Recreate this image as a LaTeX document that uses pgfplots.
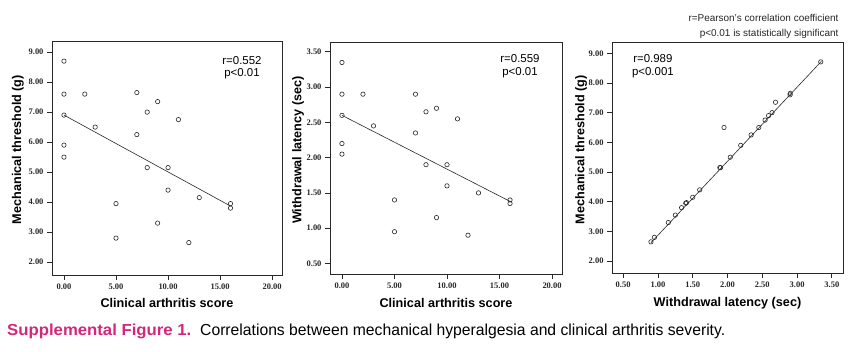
\documentclass[border=0pt]{standalone}
\usepackage{fontspec}
\setmainfont{Liberation Sans}
\newfontfamily\tickfont{Liberation Serif}
\usepackage{pgfplots}
\pgfplotsset{compat=1.18}
\definecolor{capred}{RGB}{212,38,122}
\definecolor{axisgray}{RGB}{40,40,40}

\pgfplotstableread{
x y
0 8.70
0 7.60
0 6.90
0 5.90
0 5.50
2 7.60
3 6.50
5 3.95
5 2.80
7 7.65
7 6.25
8 7.00
8 5.15
9 7.35
9 3.30
10 5.15
10 4.40
11 6.75
12 2.65
13 4.15
16 3.95
16 3.80
}\tabA

\pgfplotstableread{
x y
0 3.35
0 2.90
0 2.60
0 2.20
0 2.05
2 2.90
3 2.45
5 1.40
5 0.95
7 2.90
7 2.35
8 2.65
8 1.90
9 2.70
9 1.15
10 1.90
10 1.60
11 2.55
12 0.90
13 1.50
16 1.40
16 1.35
}\tabB

\pgfplotstableread{
x y
3.34 8.71
2.90 7.65
2.90 7.60
2.69 7.35
2.64 7.00
2.59 6.90
2.54 6.75
2.45 6.50
2.34 6.25
2.19 5.90
2.04 5.50
1.95 6.50
1.89 5.15
1.90 5.15
1.60 4.40
1.50 4.15
1.40 3.95
1.41 3.97
1.34 3.80
1.25 3.55
1.15 3.30
0.95 2.80
0.90 2.65
}\tabC

\pgfplotsset{
  panel/.style={
    scale only axis,
    anchor=south west,
    axis line style={axisgray, line width=0.9bp},
    tick align=outside,
    tick pos=left,
    major tick length=5bp,
    tick style={axisgray, line width=0.8bp},
    /pgf/number format/.cd, fixed, fixed zerofill, precision=2, assume math mode=true,
    /pgfplots/.cd,
    tick label style={font=\tickfont\bfseries\fontsize{8.5}{9}\selectfont, text=black!85},
    label style={font=\bfseries\fontsize{12.7}{13}\selectfont},
    scaled ticks=false,
  },
  pts/.style={only marks, mark=o, mark size=2.2bp, mark options={line width=0.6bp, black!85}},
  fit/.style={no marks, line width=0.6bp, black!85},
}

\begin{document}
\begin{tikzpicture}
\path[use as bounding box] (0,0) rectangle (854bp,352bp);

% Panel 1
\begin{axis}[panel, at={(52bp,77bp)}, width=230bp, height=234bp,
  xmin=-1.15, xmax=20.95, ymin=1.57, ymax=9.37,
  xtick={0,5,10,15,20}, ytick={2,3,4,5,6,7,8,9},
  xlabel={Clinical arthritis score}, ylabel={Mechanical threshold (g)},
  xlabel style={at={(axis description cs:0.5,-0.12)}, anchor=center},
  ylabel style={at={(axis description cs:-0.148,0.536)}, anchor=center},
]
\addplot[pts] table[x=x,y=y] {\tabA};
\addplot[fit] coordinates {(0,6.90) (16,3.87)};
\node[align=center, font=\fontsize{11.5}{13}\selectfont] at (rel axis cs:0.826,0.886) {r=0.552\\p<0.01};
\end{axis}

% Panel 2
\begin{axis}[panel, at={(330bp,78bp)}, width=232bp, height=232bp,
  xmin=-1.14, xmax=20.95, ymin=0.35, ymax=3.64,
  xtick={0,5,10,15,20}, ytick={0.5,1,1.5,2,2.5,3,3.5},
  xlabel={Clinical arthritis score}, ylabel={Withdrawal latency (sec)},
  xlabel style={at={(axis description cs:0.5,-0.125)}, anchor=center},
  ylabel style={at={(axis description cs:-0.137,0.534)}, anchor=center},
]
\addplot[pts] table[x=x,y=y] {\tabB};
\addplot[fit] coordinates {(0,2.60) (16,1.38)};
\node[align=center, font=\fontsize{11.5}{13}\selectfont] at (rel axis cs:0.819,0.894) {r=0.559\\p<0.01};
\end{axis}

% Panel 3
\begin{axis}[panel, at={(612bp,79bp)}, width=231bp, height=231bp,
  xmin=0.34, xmax=3.66, ymin=1.6, ymax=9.38,
  xtick={0.5,1,1.5,2,2.5,3,3.5}, ytick={2,3,4,5,6,7,8,9},
  xlabel={Withdrawal latency (sec)}, ylabel={Mechanical threshold (g)},
  xlabel style={at={(axis description cs:0.5,-0.13)}, anchor=center},
  ylabel style={at={(axis description cs:-0.134,0.534)}, anchor=center},
]
\addplot[pts] table[x=x,y=y] {\tabC};
\addplot[fit] coordinates {(0.90,2.62) (3.35,8.73)};
\node[align=center, font=\fontsize{11.5}{13}\selectfont] at (rel axis cs:0.177,0.894) {r=0.989\\p<0.001};
\end{axis}

\node[anchor=east, align=right, font=\fontsize{10}{15}\selectfont, text=black!85] at (842bp,326bp) {r=Pearson's correlation coefficient\\p<0.01 is statistically significant};

\node[anchor=base west, inner sep=0pt] at (7bp,17bp) {\scalebox{1.05}[1]{\fontsize{16}{18}\selectfont\color{capred}\bfseries Supplemental Figure 1.}};
\node[anchor=base west, inner sep=0pt] at (200bp,17bp) {\scalebox{0.985}[1]{\fontsize{16}{18}\selectfont Correlations between mechanical hyperalgesia and clinical arthritis severity.}};
\end{tikzpicture}
\end{document}
